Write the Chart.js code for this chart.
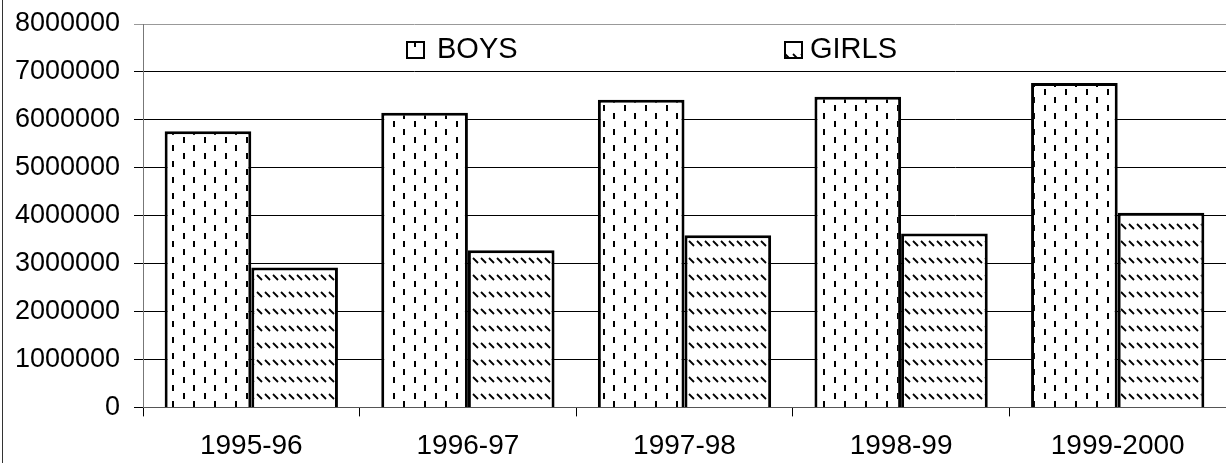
<!DOCTYPE html>
<html>
<head>
<meta charset="utf-8">
<script src="https://cdn.jsdelivr.net/npm/chart.js@4/dist/chart.umd.min.js"></script>
<style>
  html, body { margin: 0; padding: 0; background: #fff; }
  #wrap { width: 1226px; height: 463px; position: relative; }
</style>
</head>
<body>
<div id="wrap"><canvas id="chart"></canvas></div>
<script>
// values
const years = ['1995-96', '1996-97', '1997-98', '1998-99', '1999-2000'];
const boys = [5760000, 6150000, 6420000, 6480000, 6770000];
const girls = [2920000, 3280000, 3590000, 3630000, 4060000];
const yTicks = [0, 1000000, 2000000, 3000000, 4000000, 5000000, 6000000, 7000000, 8000000];

const FONT = '"Liberation Sans", Arial, sans-serif';

// fills: staggered vertical dashes for boys, short backslashes for girls
const dashes = (() => {
    const c = document.createElement('canvas');
    c.width = 21; c.height = 16;
    const g = c.getContext('2d');
    g.fillStyle = '#fff'; g.fillRect(0, 0, 21, 16);
    g.fillStyle = '#000';
    g.fillRect(4, 1, 2, 6);
    g.fillRect(15, 9, 2, 6);
    return g.createPattern(c, 'repeat');
})();

const slashes = (() => {
    const c = document.createElement('canvas');
    c.width = 8; c.height = 17;
    const g = c.getContext('2d');
    g.fillStyle = '#fff'; g.fillRect(0, 0, 8, 17);
    g.strokeStyle = '#000'; g.lineWidth = 1.8;
    g.beginPath(); g.moveTo(1, 3); g.lineTo(6, 8); g.stroke();
    return g.createPattern(c, 'repeat');
})();

// legend sits inside the plot, two entries far apart
const innerLegend = {
    id: 'innerLegend',
    afterDraw(chart) {
        const { ctx } = chart;
        const boxes = [407, 785], texts = [437, 810];
        ctx.save();
        chart.data.datasets.forEach((ds, i) => {
            const x = boxes[i], y = 42;
            ctx.fillStyle = ds.backgroundColor;
            ctx.fillRect(x, y, 17, 16);
            ctx.strokeStyle = '#000'; ctx.lineWidth = 2;
            ctx.strokeRect(x, y, 17, 16);
            ctx.fillStyle = '#000';
            ctx.font = '29px ' + FONT;
            ctx.textBaseline = 'middle';
            ctx.fillText(ds.label, texts[i], y + 8);
        });
        // outer frame line on the far left
        ctx.strokeStyle = '#333'; ctx.lineWidth = 1;
        ctx.beginPath(); ctx.moveTo(2.5, 0); ctx.lineTo(2.5, chart.height); ctx.stroke();
        ctx.restore();
    }
};

new Chart(document.getElementById('chart'), {
    type: 'bar',
    data: {
        labels: years,
        datasets: [
            { label: 'BOYS', data: boys, backgroundColor: dashes, borderColor: '#000', borderWidth: 3 },
            { label: 'GIRLS', data: girls, backgroundColor: slashes, borderColor: '#000', borderWidth: 3 }
        ]
    },
    options: {
        responsive: true,
        maintainAspectRatio: false,
        animation: false,
        categoryPercentage: 0.8,
        barPercentage: 1.0,
        layout: { padding: { top: 0, right: 0, bottom: -13, left: 0 } },
        plugins: { legend: { display: false }, tooltip: { enabled: false } },
        scales: {
            x: {
                offset: true,
                grid: { drawOnChartArea: false, drawTicks: true, tickLength: 9, color: '#000', offset: true },
                border: { color: '#555' },
                ticks: { color: '#000', padding: 13, maxRotation: 0, font: { size: 28, family: FONT } }
            },
            y: {
                min: 0,
                max: 8000000,
                afterBuildTicks: s => { s.ticks = yTicks.map(v => ({ value: v })); },
                afterFit: s => { s.width = 143; s.paddingTop = 24; s.paddingBottom = 0; },
                grid: {
                    color: c => c.tick && c.tick.value === 8000000 ? '#999' : '#000',
                    lineWidth: 1,
                    tickLength: 9
                },
                border: { color: '#777' },
                ticks: {
                    color: '#000', padding: 14,
                    font: { size: 27, family: FONT },
                    callback: v => String(v)
                }
            }
        }
    },
    plugins: [innerLegend]
});
</script>
</body>
</html>
